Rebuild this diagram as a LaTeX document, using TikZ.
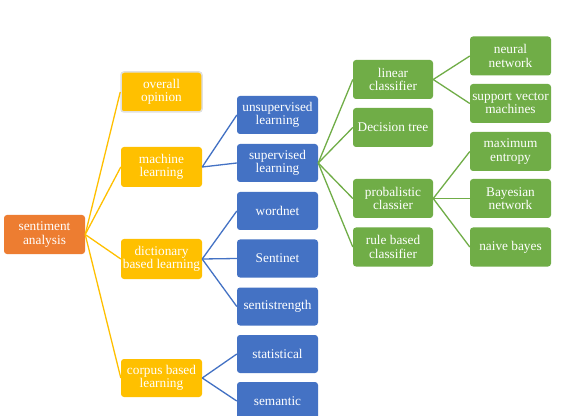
\documentclass[tikz,border=0pt]{standalone}
\usepackage{fontspec}
\setmainfont{Liberation Serif}
\definecolor{cOrange}{HTML}{ED7D31}
\definecolor{cYellow}{HTML}{FFC000}
\definecolor{cBlue}{HTML}{4472C4}
\definecolor{cGreen}{HTML}{70AD47}
\tikzset{
  box/.style={rectangle, rounded corners=3pt, text=white, align=center, inner sep=0pt,
    font=\fontsize{13.3}{13.6}\selectfont, minimum height=39pt},
  rootbox/.style={box, fill=cOrange, minimum width=81pt},
  ybox/.style={box, fill=cYellow, minimum width=81pt, minimum height=40pt},
  bbox/.style={box, fill=cBlue, minimum width=81pt, minimum height=38pt},
  gbox/.style={box, fill=cGreen, minimum width=80pt},
  gboxr/.style={box, fill=cGreen, minimum width=81pt},
  yline/.style={draw=cYellow, line width=1.3pt},
  bline/.style={draw=cBlue, line width=1.3pt},
  gline/.style={draw=cGreen, line width=1.3pt},
}
\begin{document}
\begin{tikzpicture}[x=1pt,y=1pt]
\useasboundingbox (0,0) rectangle (577,415);
\clip (0,0) rectangle (577,415);
\fill[white] (0,0) rectangle (577,415);
% root
\node[rootbox] (root) at (44.5,180.5) {sentiment\\analysis};
% level 1
\node[ybox, draw=black!12, line width=1.5pt] (overall) at (161.5,323) {overall\\opinion};
\node[ybox] (machine) at (161.5,248) {machine\\learning};
\node[ybox] (dict) at (161.5,156) {dictionary\\based learning};
\node[ybox, minimum height=38pt] (corpus) at (161.5,37) {corpus based\\learning};
% level 2
\node[bbox] (unsup) at (277.5,300) {unsupervised\\learning};
\node[bbox] (sup) at (277.5,252) {supervised\\learning};
\node[bbox] (wordnet) at (277.5,204) {wordnet};
\node[bbox] (sentinet) at (277.5,156.5) {Sentinet};
\node[bbox] (sentistr) at (277.5,108.5) {sentistrength};
\node[bbox] (statist) at (277.5,61) {statistical};
\node[bbox] (semantic) at (277.5,14) {semantic};
% level 3
\node[gbox] (linear) at (393,335.5) {linear\\classifier};
\node[gbox] (dtree) at (393,287.5) {Decision tree};
\node[gbox] (prob) at (393,216.5) {probalistic\\classier};
\node[gbox] (rule) at (393,168) {rule based\\classifier};
% level 4
\node[gboxr] (neural) at (510.5,359) {neural\\network};
\node[gboxr] (svm) at (510.5,311.5) {support vector\\machines};
\node[gboxr] (maxent) at (510.5,263.5) {maximum\\entropy};
\node[gboxr] (bayes) at (510.5,216.5) {Bayesian\\network};
\node[gboxr] (naive) at (510.5,168) {naive bayes};
% connectors
\foreach \c in {overall,machine,dict,corpus} \draw[yline] (root.east) -- (\c.west);
\foreach \c in {unsup,sup} \draw[bline] (machine.east) -- (\c.west);
\foreach \c in {wordnet,sentinet,sentistr} \draw[bline] (dict.east) -- (\c.west);
\foreach \c in {statist,semantic} \draw[bline] (corpus.east) -- (\c.west);
\foreach \c in {linear,dtree,prob,rule} \draw[gline] (sup.east) -- (\c.west);
\foreach \c in {neural,svm} \draw[gline] (linear.east) -- (\c.west);
\foreach \c in {maxent,bayes,naive} \draw[gline] (prob.east) -- (\c.west);
\end{tikzpicture}
\end{document}
